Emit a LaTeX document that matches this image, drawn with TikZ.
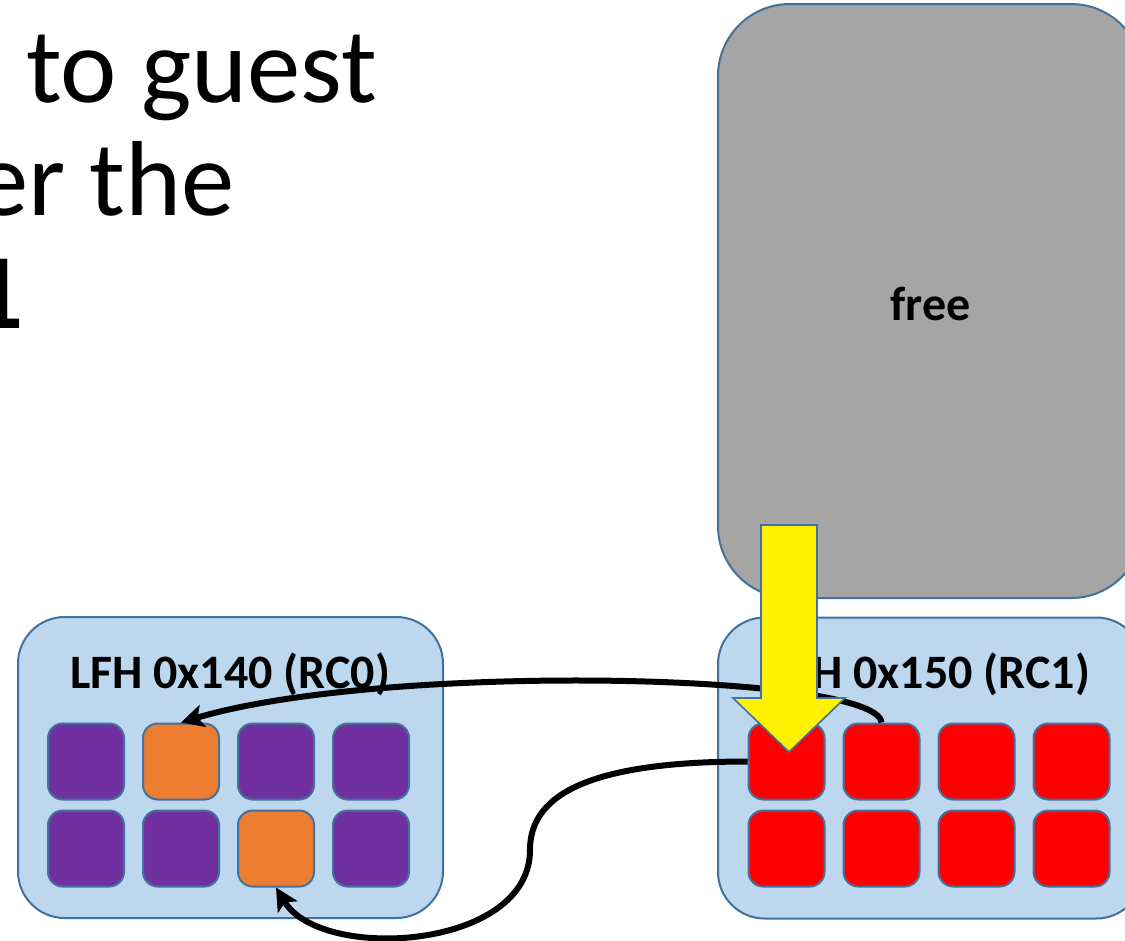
\documentclass[tikz,border=0pt]{standalone}
\usepackage{fontspec}
\setmainfont{Carlito}
\usetikzlibrary{arrows.meta,positioning}
\definecolor{edgeblue}{HTML}{41719C}
\definecolor{heapfill}{HTML}{BDD7EE}
\definecolor{freegray}{HTML}{A5A5A5}
\definecolor{busypurple}{HTML}{7030A0}
\definecolor{holeorange}{HTML}{ED7D31}
\definecolor{victimred}{HTML}{FF0000}

\begin{document}
\begin{tikzpicture}[
    x=0.75pt,y=-0.75pt,
    node distance=6.75pt and 12.75pt,
    heap/.style={rectangle,rounded corners=35pt,draw=edgeblue,fill=heapfill,line width=1.5pt,
      minimum width=318.75pt,minimum height=225.75pt},
    chunk/.style={rectangle,rounded corners=11pt,draw=edgeblue,line width=1.5pt,
      minimum size=57pt,inner sep=0pt},
    used/.style={chunk,fill=busypurple},
    hole/.style={chunk,fill=holeorange},
    taken/.style={chunk,fill=victimred},
    heaplabel/.style={font=\fontsize{36}{43}\selectfont\bfseries,anchor=base,inner sep=0pt},
    slide/.style={font=\fontsize{80}{96}\selectfont,anchor=base east,inner sep=0pt},
    arrow/.style={-{Stealth[length=17pt,width=17pt,inset=4pt]},line width=4.5pt}
  ]
    \useasboundingbox (0,0) rectangle (1125,940);
    \clip (0,0) rectangle (1125,940);

    % slide text, cut by the left edge
    \node[slide] (line1) at (377,102) {to guest};
    \node[slide] (line2) at (235,215) {er the};
    \node[slide,font=\fontsize{80}{96}\selectfont\bfseries] (line3) at (24,328) {1};

    % free block above the RC1 heap
    \node[rectangle,rounded corners=54pt,draw=edgeblue,fill=freegray,line width=1.5pt,
      minimum width=318.75pt,minimum height=445.5pt] (freeblk) at (930.5,301) {};
    \node[heaplabel,anchor=center] (freetag) at (930.5,304) {free};

    % the two LFH buckets
    \node[heap] (heapA) at (230.5,767.5) {};
    \node[heap] (heapB) at (930.5,768) {};
    \node[heaplabel] (tagA) at (230,688) {LFH 0x140 (RC0)};
    \node[heaplabel] (tagB) at (930,688) {LFH 0x150 (RC1)};

    \node[used] (l1) at (86,761.5) {};
    \node[hole,right=of l1] (l2) {};
    \node[used,right=of l2] (l3) {};
    \node[used,right=of l3] (l4) {};
    \node[used,below=of l1] (l5) {};
    \node[used,right=of l5] (l6) {};
    \node[hole,right=of l6] (l7) {};
    \node[used,right=of l7] (l8) {};

    \node[taken] (r1) at (786.5,761.5) {};
    \node[taken,right=of r1] (r2) {};
    \node[taken,right=of r2] (r3) {};
    \node[taken,right=of r3] (r4) {};
    \node[taken,below=of r1] (r5) {};
    \node[taken,right=of r5] (r6) {};
    \node[taken,right=of r6] (r7) {};
    \node[taken,right=of r7] (r8) {};

    % moves between the buckets
    \coordinate (bend) at (530,850);
    \draw[arrow] (r2.north) .. controls +(-5,-50) and +(200,-60) .. (l2.north);
    \draw[arrow] (r1.west) .. controls +(-170,0) and +(0,-50) .. (bend)
      .. controls +(0,100) and +(45,75) .. (l7.south);

    % big yellow arrow into the first RC1 chunk
    \draw[fill=yellow,draw=edgeblue,line width=1.2pt] (761,525) -- (817,525) -- (817,698)
      -- (845,698) -- (789,752) -- (733,698) -- (761,698) -- cycle;
\end{tikzpicture}
\end{document}
